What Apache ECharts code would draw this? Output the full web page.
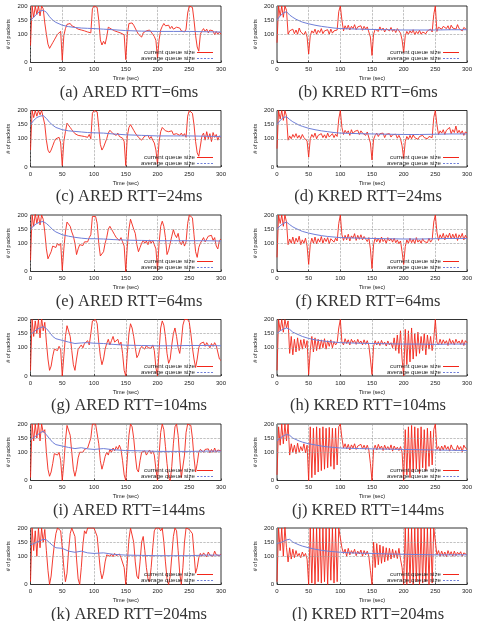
<!DOCTYPE html>
<html>
<head>
<meta charset="utf-8">
<script src="https://cdn.jsdelivr.net/npm/echarts@6.0.0/dist/echarts.min.js"></script>
<style>
  html, body { margin: 0; padding: 0; background: #fff; }
  #main { width: 477px; height: 621px; }
</style>
</head>
<body>
<div id="main"></div>
<script>
// queue length sampled every 2.5 s, 0..300 s (121 values per run)
var STEP = 2.5;

var curA = [60,200,160,200, 170,200,165,200, 190,140,100,65, 50,55,70,80, 90,100,95,110,
  8,95,120,135, 142,138,130,134, 125,128,118,122, 115,120,112,118, 108,115,105,190,
  200,198,195,150, 80,62,75,65, 90,125,132,118, 122,112,118,108, 112,104,110,98,
  10,100,138,145, 140,132,125,110, 100,95,90,105, 100,112,105,115, 110,100,92,78,
  15,80,115,128, 138,130,125,132, 120,128,118,124, 125,118,122,112, 115,108,118,175,
  200,198,195,150, 95,55,40,100, 112,120,110,118, 105,115,108,112, 98,110,100,108, 100];
var curB = [70,200,165,200, 160,200,185,100, 112,105,118,102, 115,100,122,108, 112,98,110,90,
  30,95,112,104, 118,100,114,106, 120,102,112,108, 116,100,118,104, 112,106,115,180,
  200,150,112,130, 118,132,115,128, 120,134,116,126, 122,130,114,128, 118,126,120,90,
  25,100,118,124, 110,126,114,122, 108,120,116,112, 124,110,118,106, 120,112,104,80,
  35,95,110,100, 112,104,116,98, 110,102,114,100, 108,115,102,112, 106,118,108,170,
  200,110,125,132, 118,128,135,120, 130,115,132,122, 128,118,134,120, 126,112,124,118, 115];
var curC = [60,200,175,200, 180,200,185,200, 195,150,95,60, 50,60,75,90, 100,95,105,85,
  5,90,125,155, 150,140,132,125, 118,122,112,118, 110,115,108,112, 105,115,100,190,
  200,200,195,140, 80,60,70,85, 100,120,130,125, 118,125,112,120, 108,115,102,90,
  5,110,140,150, 145,130,120,115, 105,100,95,100, 110,105,112,100, 108,95,85,60,
  10,90,125,140, 135,128,132,125, 120,128,115,122, 118,125,112,120, 110,118,105,180,
  200,200,190,150, 90,50,38,35, 110,120,95,125, 100,118,90,122, 105,115,95,110, 105];
var curD = [65,200,170,200, 165,200,180,95, 110,100,115,105, 118,102,112,100, 115,104,110,92,
  35,100,115,105, 120,100,112,108, 118,104,114,102, 120,106,112,118, 104,116,108,170,
  200,140,115,130, 120,128,112,132, 118,126,122,130, 115,128,120,126, 112,124,118,85,
  25,98,112,120, 108,118,112,120, 104,116,110,118, 106,114,108,116, 102,112,100,75,
  30,90,108,98, 112,100,114,104, 110,98,108,102, 112,104,110,100, 108,114,104,175,
  200,150,115,128, 120,132,115,130, 125,140,118,132, 122,145,120,130, 118,128,112,124, 120];
var curE = [40,200,160,205, 170,200,165,200, 185,140,80,45, 38,70,90,95, 85,100,92,100,
  5,80,140,175, 180,160,140,125, 100,60,80,95, 100,92,105,110, 105,120,130,195,
  200,195,170,100, 55,48,70,100, 120,150,160,150, 140,130,120,125, 110,120,105,90,
  0,90,150,185, 180,150,135,95, 70,85,100,110, 100,108,95,112, 100,110,95,80,
  5,100,160,178, 160,120,60,75, 100,125,148,130, 120,135,105,95, 110,90,105,170,
  200,200,190,130, 70,50,85,100, 110,120,105,115, 125,118,128,110, 120,90,80,110, 115];
var curF = [50,200,170,200, 160,200,175,95, 115,100,122,98, 118,104,125,95, 112,100,118,90,
  25,95,118,100, 122,98,116,104, 124,100,118,106, 120,98,116,110, 104,118,108,170,
  200,130,110,128, 112,132,108,126, 118,134,110,128, 114,130,112,124, 118,106,120,80,
  10,95,120,105, 118,102,122,106, 114,100,120,108, 116,104,118,102, 112,98,108,70,
  25,88,112,100, 118,102,114,98, 120,104,112,100, 116,106,112,102, 118,104,112,175,
  200,140,110,130, 118,135,112,130, 120,136,115,132, 118,134,110,130, 120,135,112,128, 118];
var curG = [20,200,140,195, 150,200,135,205, 160,190,120,60, 20,35,70,95, 100,90,105,95,
  0,70,140,178, 175,140,90,40, 20,60,95,100, 110,100,115,120, 125,110,150,195,
  200,200,185,120, 70,40,60,95, 115,130,110,125, 140,120,115,130, 110,120,80,20,
  0,80,150,185, 170,140,100,65, 75,95,105,100, 95,108,100,105, 98,110,90,30,
  0,90,170,195, 180,140,80,45, 60,110,150,170, 140,100,80,120, 180,200,195,200,
  190,150,100,60, 30,60,100,115, 110,120,105,118, 112,100,115,105, 118,108,110,60, 55];
var curH = [20,200,160,200, 155,200,170,195, 80,140,75,130, 85,135,90,128, 95,130,100,125,
  5,90,140,85, 135,90,130,95, 128,100,132,95, 125,105,128,100, 122,110,118,170,
  200,120,110,132, 115,128,110,130, 118,126,112,130, 116,124,110,128, 112,125,108,60,
  5,105,125,110, 122,108,126,112, 120,106,124,110, 118,100,135,90, 145,80,160,60,
  0,165,40,160, 50,170,60,150, 70,155,80,140, 90,150,75,145, 95,140,90,130,
  200,120,110,130, 112,128,115,125, 108,132,114,126, 110,130,116,124, 112,128,108,125, 118];
var curI = [10,200,140,200, 150,205,140,200, 170,180,100,40, 15,30,60,95, 100,90,100,70,
  0,60,140,195, 200,160,100,40, 15,40,80,100, 105,100,110,105, 115,110,150,200,
  200,200,195,130, 70,40,60,85, 100,90,110,100, 115,105,120,110, 125,110,70,20,
  0,80,160,200, 190,150,90,40, 30,70,100,95, 105,90,100,108, 95,105,90,40,
  0,90,170,200, 180,120,60,10, 0,50,130,190, 200,160,80,10, 5,90,170,200,
  200,195,150,80, 30,60,100,110, 115,100,110,105, 112,98,110,100, 115,100,108,112, 105];
var curJ = [20,190,125,200, 130,200,140,200, 90,130,100,125, 95,132,100,120, 105,130,98,125,
  0,190,10,185, 20,190,30,185, 35,190,40,185, 45,188,50,185, 40,185,55,190,
  200,150,115,130, 112,128,108,126, 115,130,110,122, 118,128,112,125, 110,125,108,60,
  0,110,125,108, 128,112,122,106, 125,110,120,108, 126,104,122,110, 118,106,120,100,
  0,180,20,190, 10,195,30,190, 40,185,25,190, 45,180,35,185, 50,175,55,180,
  200,110,120,105, 122,108,125,110, 120,104,126,112, 118,106,124,110, 120,102,125,115, 110];
var curK = [10,200,120,190, 100,200,130,200, 150,195,120,50, 0,30,90,140, 180,200,200,190,
  130,60,10,40, 120,180,200,200, 170,90,20,0, 60,140,190,180, 200,195,200,200,
  200,195,170,110, 50,20,40,80, 105,110,100,108, 98,110,102,100, 108,95,100,60,
  0,80,160,200, 200,150,80,30, 20,80,150,170, 120,60,20,10, 60,130,190,200,
  200,200,190,200, 150,80,20,0, 30,100,170,200, 190,120,40,0, 60,150,200,200,
  195,200,180,110, 40,60,95,110, 100,112,105,98, 115,104,110,100, 118,105,112,102, 108];
var curL = [10,200,120,200, 100,205,130,80, 130,90,125,95, 120,100,110,95, 115,100,110,90,
  0,200,5,200, 0,200,10,200, 5,200,10,200, 0,200,15,200, 5,200,10,200,
  200,130,110,125, 100,128,105,120, 110,125,102,118, 108,122,100,120, 105,118,100,50,
  0,150,60,145, 70,140,75,135, 80,130,85,128, 90,125,95,120, 92,128,90,60,
  0,200,0,200, 5,200,0,200, 10,200,0,200, 5,200,10,200, 0,200,5,200,
  200,105,120,100, 118,102,115,98, 120,104,116,100, 118,102,114,106, 116,100,112,108, 105];

// average queue size read at these times
var AVG_T = [0,5,10,15,20,25,30,35,40,50,60,70,80,90,100,115,130,150,175,200,225,250,275,300];
var avgA = [150,160,172,182,185,178,162,150,142,132,127,124,122,121,120,118,116,113,111,110,110,110,109,108];
var avgB = [150,165,175,180,168,160,153,148,143,137,132,128,125,122,120,119,118,117,116,115,115,115,116,116];
var avgC = [150,165,175,180,182,172,158,148,140,132,128,126,124,122,121,120,117,114,112,110,110,110,109,108];
var avgD = [150,165,175,178,168,160,154,148,144,137,132,128,125,122,120,119,118,117,116,115,115,116,117,117];
var avgE = [150,162,170,175,177,170,160,148,140,130,125,121,118,116,116,115,113,111,110,109,109,109,109,108];
var avgF = [150,162,170,175,166,158,152,147,142,136,131,127,124,122,120,119,118,117,116,115,115,116,117,117];
var avgG = [148,155,165,170,175,168,155,140,132,126,120,115,117,118,116,115,112,109,108,107,107,108,108,107];
var avgH = [150,160,166,170,165,155,150,145,140,133,128,125,122,120,118,117,116,115,114,113,113,112,113,113];
var avgI = [145,152,160,168,175,162,148,135,127,122,117,113,116,112,110,113,109,106,105,103,103,103,104,104];
var avgJ = [140,150,158,163,160,150,145,140,136,130,126,122,119,117,115,114,113,112,111,110,109,108,107,106];
var avgK = [140,145,150,155,160,158,148,138,130,128,118,114,118,112,110,112,107,104,103,102,102,102,104,104];
var avgL = [145,148,152,158,160,150,145,140,136,130,125,121,118,116,114,112,111,110,108,107,106,105,105,105];

var captions = ['(a) ARED RTT=6ms', '(b) KRED RTT=6ms', '(c) ARED RTT=24ms', '(d) KRED RTT=24ms',
  '(e) ARED RTT=64ms', '(f) KRED RTT=64ms', '(g) ARED RTT=104ms', '(h) KRED RTT=104ms',
  '(i) ARED RTT=144ms', '(j) KRED RTT=144ms', '(k) ARED RTT=204ms', '(l) KRED RTT=204ms'];
var legendNames = ['current queue size', 'average queue size'];

var curAll = [curA, curB, curC, curD, curE, curF, curG, curH, curI, curJ, curK, curL];
var avgAll = [avgA, avgB, avgC, avgD, avgE, avgF, avgG, avgH, avgI, avgJ, avgK, avgL];

var RED = '#f2261a', BLUE = '#6f7fd8';
var SANS = '"Liberation Sans", Arial, sans-serif';
var colLeft = [30.5, 277], colWidth = [190.5, 190], capX = [124, 363];
var rowTop = [6, 110.5, 215, 319.5, 424, 528], plotH = 56.5;

var myChart = echarts.init(document.getElementById('main'));

function buildOption() {
    var grids = [], xAxes = [], yAxes = [], series = [], titles = [], graphics = [];

    for (var k = 0; k < 12; k++) {
        var col = k % 2, row = Math.floor(k / 2);
        var yTop = rowTop[row];
        grids.push({ left: colLeft[col], top: yTop, width: colWidth[col], height: plotH,
            show: true, borderColor: '#000', borderWidth: 0.8 });
        xAxes.push({
            type: 'value', gridIndex: k, min: 0, max: 300, interval: 50,
            name: 'Time (sec)', nameLocation: 'middle', nameGap: 13,
            nameTextStyle: { fontSize: 5.6, color: '#222', fontFamily: SANS },
            axisLine: { show: false },
            axisTick: { inside: true, length: 2, lineStyle: { color: '#000', width: 0.6 } },
            axisLabel: { fontSize: 6, color: '#222', fontFamily: SANS, margin: 4 },
            splitLine: { show: true, lineStyle: { color: '#999', type: 'dashed', width: 0.6 } }
        });
        yAxes.push({
            type: 'value', gridIndex: k, min: 0, max: 200, interval: 50,
            name: '# of packets', nameLocation: 'middle', nameGap: 19, nameRotate: 90,
            nameTextStyle: { fontSize: 5.6, color: '#222', fontFamily: SANS },
            axisLine: { show: false },
            axisTick: { show: false },
            axisLabel: { fontSize: 6, color: '#222', fontFamily: SANS, margin: 3,
                formatter: function (v) { return v === 50 ? '' : String(v); } },
            splitLine: { show: false }
        });

        var cur = curAll[k].map(function (v, i) { return [i * STEP, v]; });
        var avg = avgAll[k].map(function (v, i) { return [AVG_T[i], v]; });

        series.push({
            type: 'line', name: legendNames[0], xAxisIndex: k, yAxisIndex: k,
            data: cur, symbol: 'none', animation: false, z: 3,
            lineStyle: { color: RED, width: 0.9 }, itemStyle: { color: RED },
            markLine: {
                silent: true, symbol: 'none', label: { show: false }, animation: false,
                lineStyle: { color: '#999', type: 'dashed', width: 0.6 },
                data: [{ yAxis: 100 }, { yAxis: 150 }]
            }
        });
        series.push({
            type: 'line', name: legendNames[1], xAxisIndex: k, yAxisIndex: k,
            data: avg, symbol: 'none', animation: false, z: 4,
            lineStyle: { color: BLUE, width: 1 }, itemStyle: { color: BLUE }
        });

        titles.push({
            text: captions[k], left: capX[col], top: yTop + 73, textAlign: 'center',
            textStyle: { fontFamily: '"Liberation Serif", "DejaVu Serif", serif', fontSize: 16.5,
                fontWeight: 'normal', color: '#333' }
        });

        // key in the lower right corner of each plot
        var right = colLeft[col] + colWidth[col];
        var y1 = Math.round(yTop + 46) + 0.5, y2 = Math.round(yTop + 52) + 0.5;
        graphics.push(
            { type: 'text', z: 10, style: { text: legendNames[0], x: right - 26, y: y1,
                align: 'right', verticalAlign: 'middle', fill: '#222', font: '6.2px ' + SANS } },
            { type: 'line', z: 10, shape: { x1: right - 24, y1: y1, x2: right - 8, y2: y1 },
                style: { stroke: RED, lineWidth: 1 } },
            { type: 'text', z: 10, style: { text: legendNames[1], x: right - 26, y: y2,
                align: 'right', verticalAlign: 'middle', fill: '#222', font: '6.2px ' + SANS } },
            { type: 'line', z: 10, shape: { x1: right - 24, y1: y2, x2: right - 8, y2: y2 },
                style: { stroke: BLUE, lineWidth: 1, lineDash: [2, 1.5] } }
        );
    }

    return {
        backgroundColor: '#fff',
        animation: false,
        title: titles,
        grid: grids,
        xAxis: xAxes,
        yAxis: yAxes,
        series: series,
        graphic: graphics
    };
}

myChart.setOption(buildOption());
</script>
</body>
</html>
